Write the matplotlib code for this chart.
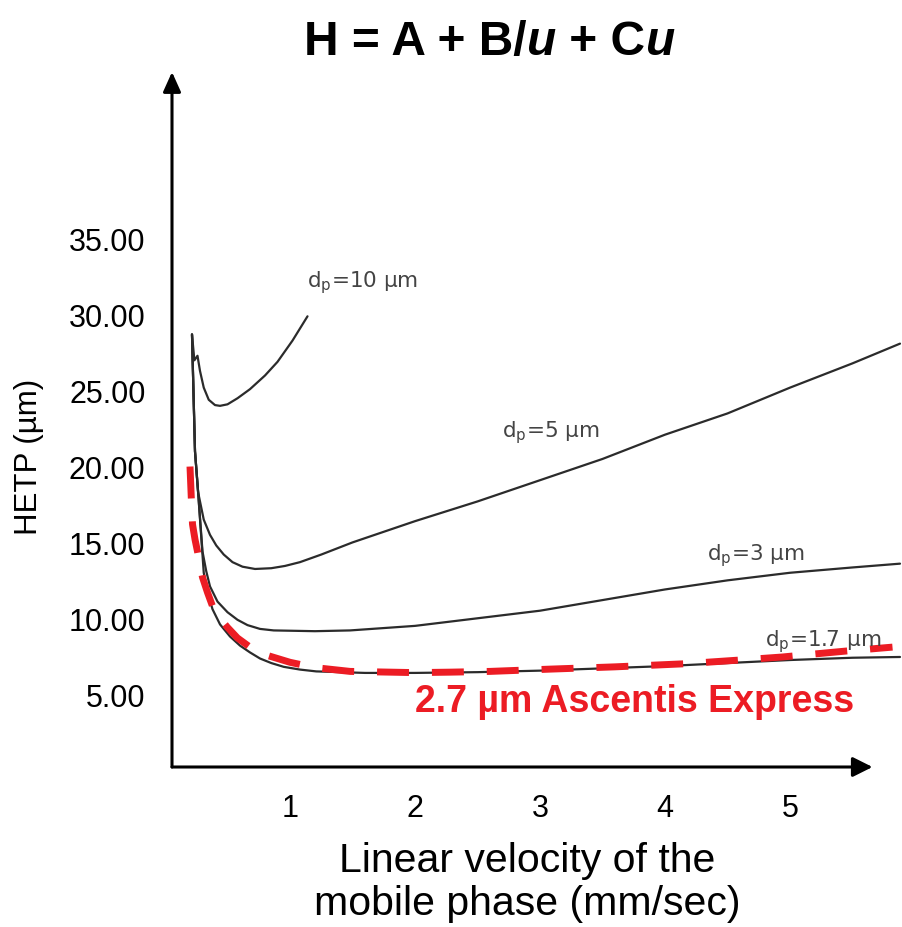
import matplotlib
matplotlib.use("Agg")
import matplotlib.pyplot as plt

plt.rcParams['font.family'] = ['Liberation Sans', 'DejaVu Sans']
plt.rcParams['mathtext.fontset'] = 'custom'
plt.rcParams['mathtext.rm'] = 'DejaVu Sans'

# van Deemter curves: linear velocity u (mm/sec) vs HETP (um)
u_10 = [0.216, 0.235, 0.26, 0.28, 0.31, 0.35, 0.40, 0.44, 0.50, 0.58, 0.68, 0.80, 0.90, 1.02, 1.14]
h_10 = [28.7, 27.0, 27.3, 26.3, 25.2, 24.4, 24.05, 24.0, 24.1, 24.5, 25.1, 26.0, 26.9, 28.3, 29.9]

u_5 = [0.216, 0.24, 0.265, 0.31, 0.36, 0.41, 0.47, 0.54, 0.62, 0.72, 0.85, 0.96, 1.08, 1.25,
       1.5, 2.0, 2.5, 3.0, 3.5, 4.0, 4.5, 5.0, 5.5, 5.88]
h_5 = [28.7, 21.0, 18.3, 16.5, 15.5, 14.8, 14.2, 13.7, 13.4, 13.25, 13.3, 13.45, 13.7, 14.2,
       15.0, 16.4, 17.7, 19.1, 20.5, 22.1, 23.5, 25.2, 26.8, 28.1]

u_3 = [0.216, 0.24, 0.265, 0.30, 0.33, 0.36, 0.42, 0.50, 0.58, 0.66, 0.76, 0.87, 1.2, 1.48,
       2.0, 2.5, 3.0, 3.5, 4.0, 4.5, 5.0, 5.5, 5.88]
h_3 = [28.7, 21.0, 18.3, 14.4, 13.1, 12.1, 11.1, 10.4, 9.9, 9.55, 9.3, 9.2, 9.15, 9.2,
       9.5, 10.0, 10.5, 11.2, 11.9, 12.5, 13.0, 13.35, 13.6]

u_17 = [0.216, 0.24, 0.265, 0.31, 0.34, 0.38, 0.44, 0.52, 0.60, 0.68, 0.76, 0.85, 0.95, 1.08,
        1.21, 1.6, 2.0, 2.5, 3.0, 3.5, 4.0, 4.5, 5.0, 5.5, 5.88]
h_17 = [28.7, 21.0, 18.3, 13.0, 11.7, 10.6, 9.6, 8.8, 8.2, 7.75, 7.35, 7.05, 6.8, 6.62,
        6.5, 6.4, 6.4, 6.45, 6.55, 6.7, 6.85, 7.05, 7.25, 7.4, 7.45]

# Ascentis Express 2.7 um (red dashed)
u_ae = [0.20, 0.21, 0.22, 0.24, 0.26, 0.28, 0.30, 0.34, 0.38, 0.44, 0.50, 0.58, 0.68, 0.80,
        1.0, 1.2, 1.48, 2.0, 2.28, 2.6, 3.08, 3.6, 4.15, 4.6, 4.94, 5.2, 5.46, 5.82]
h_ae = [20.0, 18.0, 16.2, 15.2, 14.4, 13.5, 12.7, 11.7, 10.8, 10.0, 9.4, 8.7, 8.1, 7.6,
        7.1, 6.75, 6.5, 6.42, 6.45, 6.5, 6.65, 6.8, 7.0, 7.25, 7.45, 7.65, 7.85, 8.1]

x_ticks = [1, 2, 3, 4, 5]
y_ticks = [5, 10, 15, 20, 25, 30, 35]

curve_labels = [r'd$_{\mathregular{p}}$=10 µm', r'd$_{\mathregular{p}}$=5 µm',
                r'd$_{\mathregular{p}}$=3 µm', r'd$_{\mathregular{p}}$=1.7 µm']
label_u = [1.136, 2.70, 4.34, 4.80]
label_h = [31.9, 22.0, 13.9, 8.2]

W, H = 903, 928
fig = plt.figure(figsize=(W / 100, H / 100), dpi=100)
ax = fig.add_axes([172 / W, 1 - 768 / H, (W - 172) / W, (768 - 73) / H])
ax.set_xlim(0.056, 5.904)
ax.set_ylim(0.2, 46.0)
for s in ax.spines.values():
    s.set_visible(False)

line_col = '#2b2b2b'
for uu, hh in [(u_10, h_10), (u_5, h_5), (u_3, h_3), (u_17, h_17)]:
    ax.plot(uu, hh, color=line_col, lw=1.6, clip_on=False,
            solid_joinstyle='round', solid_capstyle='round')

ax.plot(u_ae, h_ae, color='#ec1c24', lw=5, dashes=(4.6, 3.3), clip_on=False)

for txt, lu, lh in zip(curve_labels, label_u, label_h):
    ax.text(lu, lh, txt, fontsize=15.5, color='#444444', family='DejaVu Sans',
            ha='left', va='baseline')

ax.text(2.0, 3.9, '2.7 µm Ascentis Express', color='#ec1c24', fontsize=27,
        weight='bold', ha='left', va='baseline')

# axis arrows
ax.annotate('', xy=(0.056, 46.0), xytext=(0.056, 0.2),
            arrowprops=dict(arrowstyle='-|>,head_length=0.6,head_width=0.27',
                            mutation_scale=20, lw=2.2, color='black',
                            shrinkA=0, shrinkB=0))
ax.annotate('', xy=(5.66, 0.2), xytext=(0.056, 0.2),
            arrowprops=dict(arrowstyle='-|>,head_length=0.6,head_width=0.3',
                            mutation_scale=20, lw=2.2, color='black',
                            shrinkA=0, shrinkB=0))

ax.set_xticks(x_ticks)
ax.set_xticklabels([str(v) for v in x_ticks])
ax.set_yticks(y_ticks)
ax.set_yticklabels(['%.2f' % v for v in y_ticks])
ax.tick_params(length=0, labelsize=22)
ax.tick_params(axis='x', pad=19)
ax.tick_params(axis='y', pad=19)

fig.text(29 / W, 1 - 457 / H, 'HETP (µm)', fontsize=22.5, rotation=90,
         ha='center', va='center')

fig.text(527 / W, 1 - 872 / H, 'Linear velocity of the', fontsize=29.5,
         ha='center', va='baseline')
fig.text(527 / W, 1 - 915 / H, 'mobile phase (mm/sec)', fontsize=29.5,
         ha='center', va='baseline')

# title with italic u
fs_t = 34.5
t = fig.text(304 / W, 1 - 55 / H, 'H = A + B/', fontsize=fs_t, weight='bold',
             ha='left', va='baseline')
t = ax.annotate('u', xy=(1, 0), xycoords=t, fontsize=fs_t, weight='bold',
                style='italic', ha='left', va='bottom', annotation_clip=False)
t = ax.annotate(' + C', xy=(1, 0), xycoords=t, fontsize=fs_t, weight='bold',
                ha='left', va='bottom', annotation_clip=False)
t = ax.annotate('u', xy=(1, 0), xycoords=t, fontsize=fs_t, weight='bold',
                style='italic', ha='left', va='bottom', annotation_clip=False)

fig.savefig('out.png', dpi=100)
